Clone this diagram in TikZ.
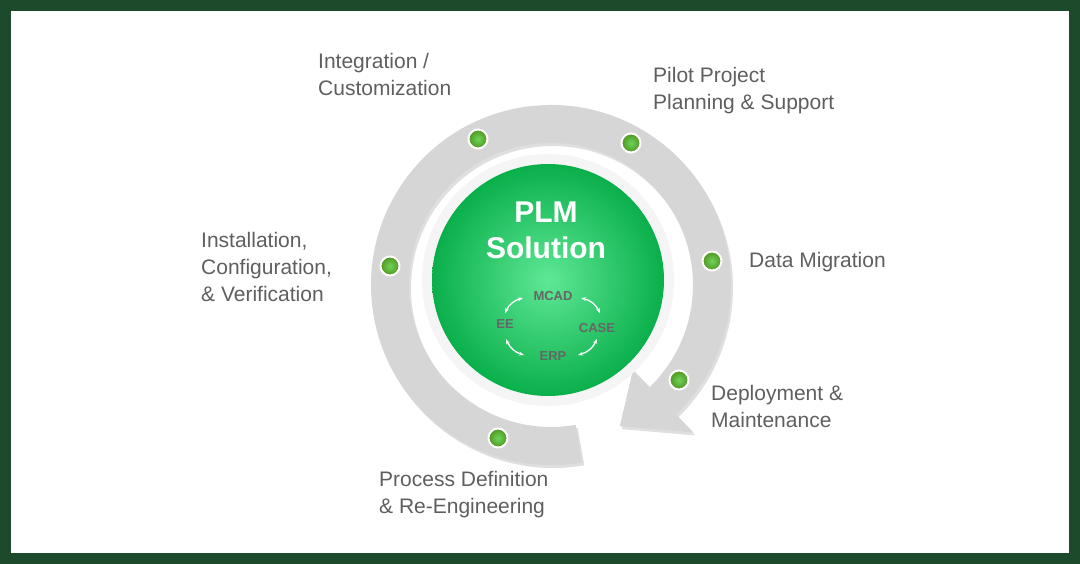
\documentclass[tikz,border=0pt]{standalone}
\usepackage{fontspec}
\setmainfont{Liberation Sans}
\usetikzlibrary{arrows.meta,shadows,calc}
\definecolor{frame}{RGB}{28,74,42}
\definecolor{txt}{RGB}{95,95,95}
\definecolor{ringc}{RGB}{214,214,214}
\definecolor{gout}{RGB}{10,175,75}
\definecolor{gin}{RGB}{95,232,150}
\definecolor{dotg}{RGB}{80,150,30}
\tikzset{
  lbl/.style={anchor=north west,inner sep=0pt,align=left,text=txt,font=\fontsize{21}{27}\selectfont},
  dot/.style={circle,draw=white,line width=2pt,inner color=dotg!60!green!70!white,outer color=dotg,minimum size=19pt,inner sep=0pt},
  sml/.style={text=black!60,font=\bfseries\fontsize{13}{14}\selectfont,inner sep=1pt},
  sarr/.style={white,line width=1.3pt,{Stealth[length=5pt]}-{Stealth[length=5pt]}}
}
\begin{document}
\begin{tikzpicture}[x=1pt,y=-1pt]
\useasboundingbox (0,0) rectangle (1080,564);
\fill[frame] (0,0) rectangle (1080,564);
\fill[white] (11,11) rectangle (1069,553);
\coordinate (c) at (551,285);
% ring with arrow
\fill[ringc, drop shadow={opacity=0.25,shadow xshift=2pt,shadow yshift=-3pt}]
  ($(c)+(80:142)$) -- ($(c)+(80:180)$) arc[start angle=80,end angle=406,radius=180]
  -- ($(c)+(406:205)$) -- ($(c)+(424:157)$) -- ($(c)+(406:118)$) -- ($(c)+(406:142)$)
  arc[start angle=406,end angle=80,radius=142] -- cycle;
\fill[white!96!black] (548,280) circle (126);
\shade[inner color=gin,outer color=gout] (548,280) circle (116);
\node[text=white,font=\bfseries\fontsize{30}{36}\selectfont,align=center] (plm) at (546,230) {PLM\\Solution};
% small cycle
\node[sml] (mcad) at (553,296) {MCAD};
\node[sml] (case) at (597,328) {CASE};
\node[sml] (erp) at (553,356) {ERP};
\node[sml] (ee) at (505,324) {EE};
\draw[sarr] (505,313) to[bend left=25] (523,298);
\draw[sarr] (581,298) to[bend left=25] (600,313);
\draw[sarr] (597,339) to[bend left=25] (578,355);
\draw[sarr] (506,339) to[bend right=25] (524,355);
% dots
\node[dot] (d1) at (478,139) {};
\node[dot] (d2) at (631,143) {};
\node[dot] (d3) at (712,261) {};
\node[dot] (d4) at (679,380) {};
\node[dot] (d5) at (498,438) {};
\node[dot] (d6) at (390,266) {};
% labels
\node[lbl] (l1) at (318,53) {Integration /\\Customization};
\node[lbl] (l2) at (653,67) {Pilot Project\\Planning \& Support};
\node[lbl] (l3) at (749,252) {Data Migration};
\node[lbl] (l4) at (711,385) {Deployment \&\\Maintenance};
\node[lbl] (l5) at (379,471) {Process Definition\\\& Re-Engineering};
\node[lbl] (l6) at (201,232) {Installation,\\Configuration,\\\& Verification};
\end{tikzpicture}
\end{document}
